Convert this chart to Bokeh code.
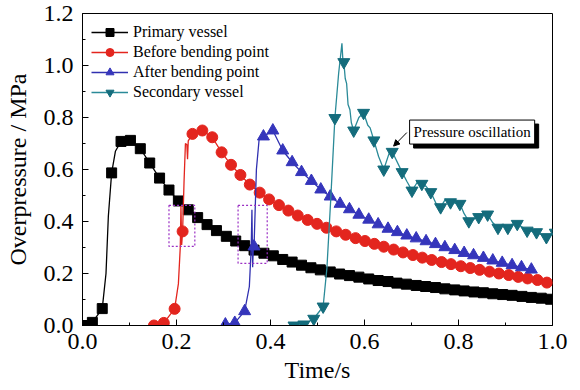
from bokeh.plotting import figure
from bokeh.models import (Range1d, Label, Arrow, NormalHead, BoxAnnotation,
                          FixedTicker, PrintfTickFormatter)
from bokeh.embed import file_html
from bokeh.resources import INLINE

# ---------------- data ----------------
x_ticks = [0.0, 0.2, 0.4, 0.6, 0.8, 1.0]
x_minor = [0.1, 0.3, 0.5, 0.7, 0.9]
y_ticks = [0.0, 0.2, 0.4, 0.6, 0.8, 1.0, 1.2]
y_minor = [0.1, 0.3, 0.5, 0.7, 0.9, 1.1]

series_names = ["Primary vessel", "Before bending point", "After bending point", "Secondary vessel"]

primary_t = [0.000, 0.021, 0.042, 0.062, 0.082, 0.102, 0.123, 0.143, 0.164, 0.184,
             0.204, 0.225, 0.245, 0.265, 0.285, 0.306, 0.326, 0.345, 0.365, 0.386,
             0.406, 0.426, 0.446, 0.466, 0.486, 0.506, 0.527, 0.547, 0.568, 0.588,
             0.609, 0.629, 0.650, 0.669, 0.689, 0.710, 0.730, 0.751, 0.771, 0.792,
             0.812, 0.833, 0.853, 0.873, 0.894, 0.914, 0.935, 0.955, 0.976, 0.996]
primary_v = [0.000, 0.012, 0.065, 0.587, 0.708, 0.712, 0.680, 0.625, 0.567, 0.521,
             0.479, 0.445, 0.415, 0.388, 0.365, 0.343, 0.325, 0.307, 0.290, 0.278,
             0.268, 0.254, 0.244, 0.232, 0.222, 0.214, 0.206, 0.198, 0.192, 0.186,
             0.179, 0.173, 0.169, 0.163, 0.159, 0.154, 0.150, 0.146, 0.141, 0.137,
             0.133, 0.129, 0.126, 0.122, 0.119, 0.116, 0.112, 0.108, 0.105, 0.101]
primary_extra_t = [0.050, 0.055, 0.070, 1.000]
primary_extra_v = [0.200, 0.420, 0.670, 0.100]

before_t = [0.152, 0.173, 0.196, 0.213, 0.234, 0.255, 0.276, 0.296, 0.316, 0.336,
            0.356, 0.377, 0.397, 0.418, 0.438, 0.458, 0.479, 0.499, 0.519, 0.540,
            0.560, 0.581, 0.601, 0.621, 0.641, 0.662, 0.682, 0.703, 0.723, 0.743,
            0.764, 0.784, 0.805, 0.825, 0.845, 0.866, 0.886, 0.907, 0.927, 0.947,
            0.968, 0.988]
before_v = [0.000, 0.010, 0.064, 0.362, 0.737, 0.750, 0.724, 0.666, 0.618, 0.579,
            0.542, 0.511, 0.485, 0.463, 0.442, 0.423, 0.406, 0.391, 0.376, 0.362,
            0.349, 0.336, 0.325, 0.314, 0.303, 0.292, 0.281, 0.271, 0.261, 0.252,
            0.244, 0.236, 0.228, 0.221, 0.214, 0.207, 0.200, 0.194, 0.187, 0.181,
            0.175, 0.165]
before_extra_t = [0.204, 0.208, 0.2095, 0.211, 0.216, 0.219, 0.222, 0.2235, 0.225, 1.000]
before_extra_v = [0.160, 0.300, 0.460, 0.310, 0.550, 0.700, 0.695, 0.640, 0.710, 0.163]

after_t = [0.304, 0.324, 0.345, 0.365, 0.385, 0.405, 0.426, 0.446, 0.466, 0.487,
           0.507, 0.527, 0.548, 0.568, 0.588, 0.609, 0.629, 0.650, 0.670, 0.690,
           0.710, 0.731, 0.751, 0.771, 0.792, 0.812, 0.832, 0.853, 0.873, 0.893,
           0.914, 0.934, 0.955]
after_v = [0.004, 0.010, 0.055, 0.304, 0.727, 0.750, 0.673, 0.628, 0.590, 0.556,
           0.523, 0.496, 0.468, 0.447, 0.426, 0.407, 0.389, 0.372, 0.359, 0.346,
           0.335, 0.324, 0.313, 0.301, 0.290, 0.279, 0.270, 0.260, 0.250, 0.241,
           0.232, 0.224, 0.215]
after_extra_t = [0.355, 0.359, 0.3605, 0.362, 0.3635, 0.370, 0.376]
after_extra_v = [0.150, 0.300, 0.445, 0.224, 0.300, 0.600, 0.720]

secondary_t = [0.450, 0.471, 0.492, 0.512, 0.537, 0.556, 0.577, 0.598, 0.620, 0.641,
               0.659, 0.680, 0.701, 0.722, 0.741, 0.762, 0.783, 0.803, 0.822, 0.843,
               0.862, 0.884, 0.905, 0.925, 0.946, 0.966, 0.987, 1.006]
secondary_v = [0.000, 0.004, 0.026, 0.073, 0.798, 1.013, 0.750, 0.818, 0.712, 0.600,
               0.668, 0.590, 0.519, 0.545, 0.513, 0.455, 0.474, 0.468, 0.401, 0.417,
               0.427, 0.376, 0.376, 0.391, 0.365, 0.359, 0.340, 0.357]
secondary_extra_t = [0.520, 0.528, 0.545, 0.552, 0.554, 0.559, 0.562, 0.565, 0.569, 0.572,
                     0.588, 0.607, 0.612, 0.630, 0.652, 0.690, 0.712, 0.731, 0.752, 0.772,
                     0.812, 0.852, 0.873, 0.895, 0.915]
secondary_extra_v = [0.220, 0.480, 0.970, 1.085, 1.020, 0.950, 0.930, 0.850, 0.830, 0.780,
                     0.800, 0.770, 0.760, 0.650, 0.660, 0.555, 0.550, 0.535, 0.470, 0.485,
                     0.430, 0.430, 0.395, 0.385, 0.390]

note_text = "Pressure oscillation"

# ---------------- figure ----------------
FONT = "Liberation Serif"

p = figure(width=580, height=390, output_backend="svg", toolbar_location=None,
           x_range=Range1d(0, 1), y_range=Range1d(0, 1.2),
           min_border_left=82, min_border_right=28, min_border_top=13, min_border_bottom=65,
           background_fill_color="white", border_fill_color="white")
p.grid.visible = False
p.outline_line_color = "black"
p.outline_line_width = 1


def merged(t, v, et, ev):
    pts = sorted(list(zip(t, v)) + list(zip(et, ev)))
    return [a for a, _ in pts], [b for _, b in pts]


styles = [
    (primary_t, primary_v, primary_extra_t, primary_extra_v, "#000000", "#000000", "square", 10),
    (before_t, before_v, before_extra_t, before_extra_v, "#e3251e", "#e3251e", "circle", 11),
    (after_t, after_v, after_extra_t, after_extra_v, "#3030b0", "#3535bb", "triangle", 12),
    (secondary_t, secondary_v, secondary_extra_t, secondary_extra_v, "#2a8a98", "#146c7c", "inverted_triangle", 12),
]

for name, (t, v, et, ev, lc, mc, mk, sz) in zip(series_names, styles):
    lt, lv = merged(t, v, et, ev)
    p.line(lt, lv, line_color=lc, line_width=1.3, legend_label=name)
    p.scatter(t, v, marker=mk, size=sz, fill_color=mc, line_color=mc, legend_label=name)

# dashed highlight boxes
for (l, r, b, tp) in [(0.184, 0.239, 0.304, 0.462), (0.331, 0.393, 0.239, 0.462)]:
    p.add_layout(BoxAnnotation(left=l, right=r, bottom=b, top=tp, fill_alpha=0,
                               line_color="#9a2fc4", line_alpha=1.0, line_dash="2 2", line_width=1.2))

# annotation with shadow
shadow = Label(x=0.829, y=0.744, text=note_text, text_align="center", text_baseline="middle",
               x_offset=4, y_offset=-4, text_font=FONT, text_font_size="15px", text_color="black",
               background_fill_color="black", border_line_color="black", padding=4)
note = Label(x=0.829, y=0.744, text=note_text, text_align="center", text_baseline="middle",
             text_font=FONT, text_font_size="15px", text_color="black",
             background_fill_color="white", border_line_color="black", border_line_width=1, padding=4)
p.add_layout(shadow)
p.add_layout(note)
p.add_layout(Arrow(end=NormalHead(size=6, fill_color="black", line_color="black"),
                   x_start=0.690, y_start=0.742, x_end=0.662, y_end=0.690,
                   line_color="black", line_width=1))

# axes
for ax, ticks, minor in [(p.xaxis[0], x_ticks, x_minor), (p.yaxis[0], y_ticks, y_minor)]:
    ax.ticker = FixedTicker(ticks=ticks, minor_ticks=minor)
    ax.formatter = PrintfTickFormatter(format="%.1f")
    ax.major_tick_in = 6
    ax.major_tick_out = 0
    ax.minor_tick_in = 3
    ax.minor_tick_out = 0
    ax.axis_line_color = "black"
    ax.major_tick_line_color = "black"
    ax.minor_tick_line_color = "black"
    ax.major_label_text_font = FONT
    ax.major_label_text_font_size = "24px"
    ax.major_label_text_color = "black"
    ax.axis_label_text_font = FONT
    ax.axis_label_text_font_size = "24px"
    ax.axis_label_text_font_style = "normal"
    ax.axis_label_text_color = "black"

p.xaxis.axis_label = "Time/s"
p.yaxis.axis_label = "Overpressure / MPa"
p.xaxis.major_label_standoff = 8
p.xaxis.axis_label_standoff = 5
p.yaxis.major_label_standoff = 9
p.yaxis.axis_label_standoff = 10

# legend
lg = p.legend[0]
lg.location = "top_left"
lg.border_line_alpha = 0
lg.background_fill_alpha = 0
lg.label_text_font = FONT
lg.label_text_font_size = "16px"
lg.label_text_color = "black"
lg.glyph_width = 37
lg.label_standoff = 5
lg.spacing = 0
lg.margin = 3
lg.padding = 6
lg.label_height = 20
lg.glyph_height = 20

open("out.html", "w").write(file_html(p, INLINE))
